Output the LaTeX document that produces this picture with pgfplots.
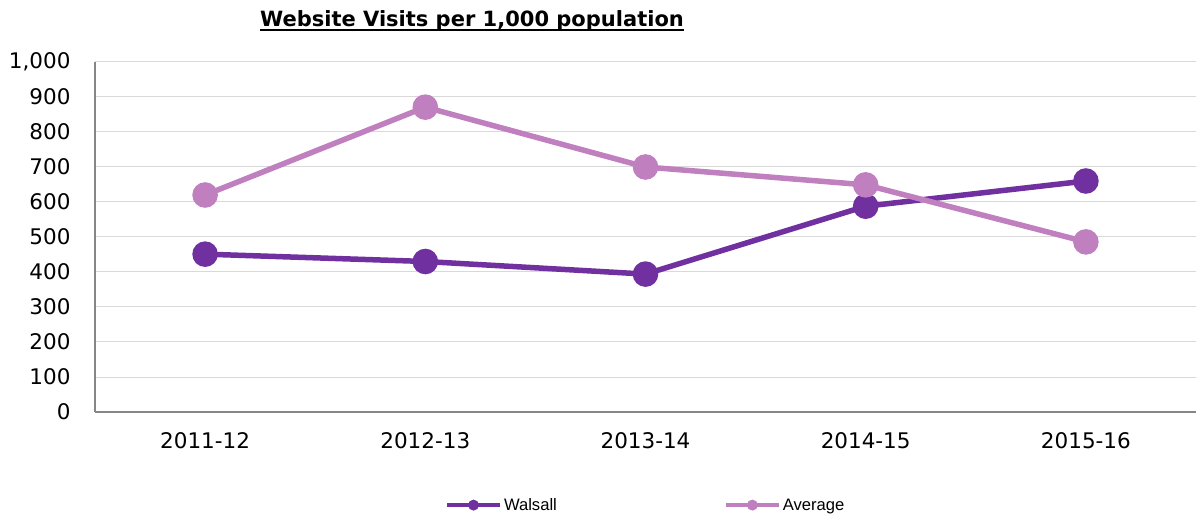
\documentclass[border=0pt]{standalone}
\usepackage{pgfplots}
\pgfplotsset{compat=1.18}
\usepackage{fontspec}
\setmainfont{DejaVu Sans}
\newfontfamily\legfont{Liberation Sans}
\definecolor{walsall}{HTML}{7030A0}
\definecolor{avg}{HTML}{C080C0}
\definecolor{gridc}{HTML}{D9D9D9}
\definecolor{axc}{HTML}{868686}
\begin{document}
\begin{tikzpicture}
\path[use as bounding box] (-95pt,-107pt) rectangle (1101pt,412pt);
\begin{axis}[
    at={(0pt,0pt)}, anchor=south west,
    scale only axis, width=1101pt, height=350pt,
    xmin=-0.5, xmax=4.5, ymin=0, ymax=1000,
    xtick={0,1,2,3,4},
    xticklabels={2011-12,2012-13,2013-14,2014-15,2015-16},
    ytick={0,100,...,1000},
    axis lines*=left,
    axis line style={axc, line width=1.5pt},
    ymajorgrids, grid style={gridc, line width=1pt},
    major tick length=0pt,
    /pgf/number format/assume math mode=true,
    /pgf/number format/1000 sep={,},
    tick label style={font=\fontsize{21.5}{24}\selectfont, black},
    yticklabel style={xshift=-21pt},
    xticklabel style={yshift=-17pt},
    legend columns=2,
    legend style={at={(0.315,-0.266)}, anchor=west, draw=none,
        font=\legfont\fontsize{16.6}{19}\selectfont,
        /tikz/every even column/.append style={column sep=165pt}},
    legend image code/.code={
        \draw[#1, line width=4pt, mark=none] (0pt,0pt) -- (53pt,0pt);
        \fill[#1, draw=none] (26.5pt,0pt) circle (5.5pt);
    },
]
\addplot[walsall, line width=5.5pt, mark=*, mark size=10pt, mark options={fill=walsall, draw=none}]
    coordinates {(0,451) (1,430) (2,394) (3,588) (4,660)};
\addlegendentry{Walsall}
\addplot[avg, line width=5.5pt, mark=*, mark size=10pt, mark options={fill=avg, draw=none}]
    coordinates {(0,620) (1,871) (2,700) (3,649) (4,486)};
\addlegendentry{Average}
\end{axis}
\node[font=\bfseries\fontsize{21}{24}\selectfont, anchor=base, inner sep=0pt] (t) at (377pt,385pt) {Website Visits per 1,000 population};
\draw[line width=2pt] ([yshift=-3pt]t.base west) -- ([yshift=-3pt]t.base east);
\end{tikzpicture}
\end{document}
